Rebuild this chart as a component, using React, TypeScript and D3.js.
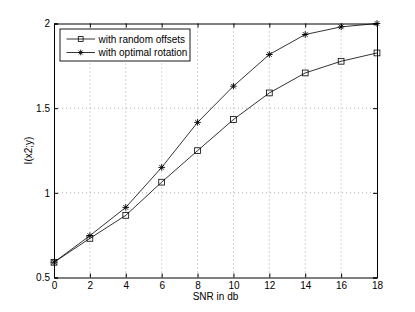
import React, { useEffect, useRef } from "react";
import * as d3 from "d3";

const snr = [0, 2, 4, 6, 8, 10, 12, 14, 16, 18];
const randomOffsets = [0.59, 0.731, 0.867, 1.063, 1.249, 1.433, 1.59, 1.708, 1.777, 1.826];
const optimalRotation = [0.59, 0.747, 0.914, 1.15, 1.416, 1.63, 1.817, 1.935, 1.98, 2.0];
const xTicks = [0, 2, 4, 6, 8, 10, 12, 14, 16, 18];
const yTicks = [0.5, 1, 1.5, 2];
const legendLabels = ["with random offsets", "with optimal rotation"];

const W = 415;
const H = 312;
const margin = { left: 54, right: 38, top: 23.5, bottom: 34.5 };
const font = "'Liberation Sans', Arial, sans-serif";

function App() {
  const ref = useRef<SVGSVGElement>(null);

  useEffect(() => {
    const svg = d3.select(ref.current);
    svg.selectAll("*").remove();
    const innerW = W - margin.left - margin.right;
    const innerH = H - margin.top - margin.bottom;
    const x = d3.scaleLinear().domain([0, 18]).range([0, innerW]);
    const y = d3.scaleLinear().domain([0.5, 2]).range([innerH, 0]);

    svg.append("rect").attr("width", W).attr("height", H).attr("fill", "#fff");
    const g = svg.append("g").attr("transform", `translate(${margin.left},${margin.top})`);

    // dotted grid
    g.selectAll(".gx")
      .data(xTicks.slice(1, -1))
      .enter()
      .append("line")
      .attr("x1", (d) => x(d))
      .attr("x2", (d) => x(d))
      .attr("y1", 0)
      .attr("y2", innerH)
      .attr("stroke", "#999")
      .attr("stroke-width", 0.8)
      .attr("stroke-dasharray", "1,3");
    g.selectAll(".gy")
      .data(yTicks.slice(1, -1))
      .enter()
      .append("line")
      .attr("x1", 0)
      .attr("x2", innerW)
      .attr("y1", (d) => y(d))
      .attr("y2", (d) => y(d))
      .attr("stroke", "#999")
      .attr("stroke-width", 0.8)
      .attr("stroke-dasharray", "1,3");

    // axes, ticks pointing inward on all four sides
    const xAxis = d3.axisBottom(x).tickValues(xTicks).tickSize(-4).tickPadding(4);
    const yAxis = d3.axisLeft(y).tickValues(yTicks).tickSize(-4).tickPadding(4).tickFormat(d3.format("~g"));
    const xa = g.append("g").attr("transform", `translate(0,${innerH})`).call(xAxis);
    const ya = g.append("g").call(yAxis);
    const xt = g.append("g").call(d3.axisTop(x).tickValues(xTicks).tickSize(-4).tickFormat(() => ""));
    const yr = g
      .append("g")
      .attr("transform", `translate(${innerW},0)`)
      .call(d3.axisRight(y).tickValues(yTicks).tickSize(-4).tickFormat(() => ""));
    [xa, ya, xt, yr].forEach((a) => {
      a.selectAll(".domain").attr("stroke", "#000");
      a.selectAll(".tick line").attr("stroke", "#000");
      a.selectAll("text").attr("font-family", font).attr("font-size", 10).attr("fill", "#000");
    });

    // series
    const line = d3
      .line<number>()
      .x((_, i) => x(snr[i]))
      .y((d) => y(d));
    g.append("path").attr("d", line(randomOffsets)).attr("fill", "none").attr("stroke", "#000").attr("stroke-width", 0.8);
    g.append("path").attr("d", line(optimalRotation)).attr("fill", "none").attr("stroke", "#000").attr("stroke-width", 0.8);

    const square = (sel: any, cx: number, cy: number, s: number) =>
      sel
        .append("rect")
        .attr("x", cx - s / 2)
        .attr("y", cy - s / 2)
        .attr("width", s)
        .attr("height", s)
        .attr("fill", "none")
        .attr("stroke", "#000")
        .attr("stroke-width", 0.8);
    const star = (sel: any, cx: number, cy: number, r: number) => {
      const k = r * 0.7;
      const p = [
        `M${cx - r},${cy}L${cx + r},${cy}`,
        `M${cx},${cy - r}L${cx},${cy + r}`,
        `M${cx - k},${cy - k}L${cx + k},${cy + k}`,
        `M${cx - k},${cy + k}L${cx + k},${cy - k}`,
      ].join("");
      sel.append("path").attr("d", p).attr("stroke", "#000").attr("stroke-width", 0.9).attr("fill", "none");
    };
    randomOffsets.forEach((v, i) => square(g, x(snr[i]), y(v), 5.8));
    optimalRotation.forEach((v, i) => star(g, x(snr[i]), y(v), 3.3));

    // legend
    const lg = g.append("g").attr("transform", "translate(6,5.5)");
    lg.append("rect").attr("width", 130).attr("height", 32).attr("fill", "#fff").attr("stroke", "#000").attr("stroke-width", 0.9);
    legendLabels.forEach((lab, i) => {
      const ly = 10 + i * 13.5;
      lg.append("line").attr("x1", 6.5).attr("x2", 35).attr("y1", ly).attr("y2", ly).attr("stroke", "#000").attr("stroke-width", 0.8);
      if (i === 0) square(lg, 20.7, ly, 4.8);
      else star(lg, 20.7, ly, 2.8);
      lg.append("text")
        .attr("x", 38.5)
        .attr("y", ly)
        .attr("dy", "0.35em")
        .attr("font-family", font)
        .attr("font-size", 10)
        .text(lab);
    });

    // axis labels
    svg.append("text")
      .attr("x", margin.left + innerW / 2)
      .attr("y", 300)
      .attr("text-anchor", "middle")
      .attr("font-family", font)
      .attr("font-size", 10)
      .text("SNR in db");
    svg.append("text")
      .attr("transform", `translate(32,${margin.top + innerH / 2}) rotate(-90)`)
      .attr("text-anchor", "middle")
      .attr("font-family", font)
      .attr("font-size", 10)
      .text("I(x2;y)");
  }, []);

  return <svg ref={ref} width={W} height={H} style={{ position: "absolute", left: 0, top: 0 }} />;
}

export default App;
